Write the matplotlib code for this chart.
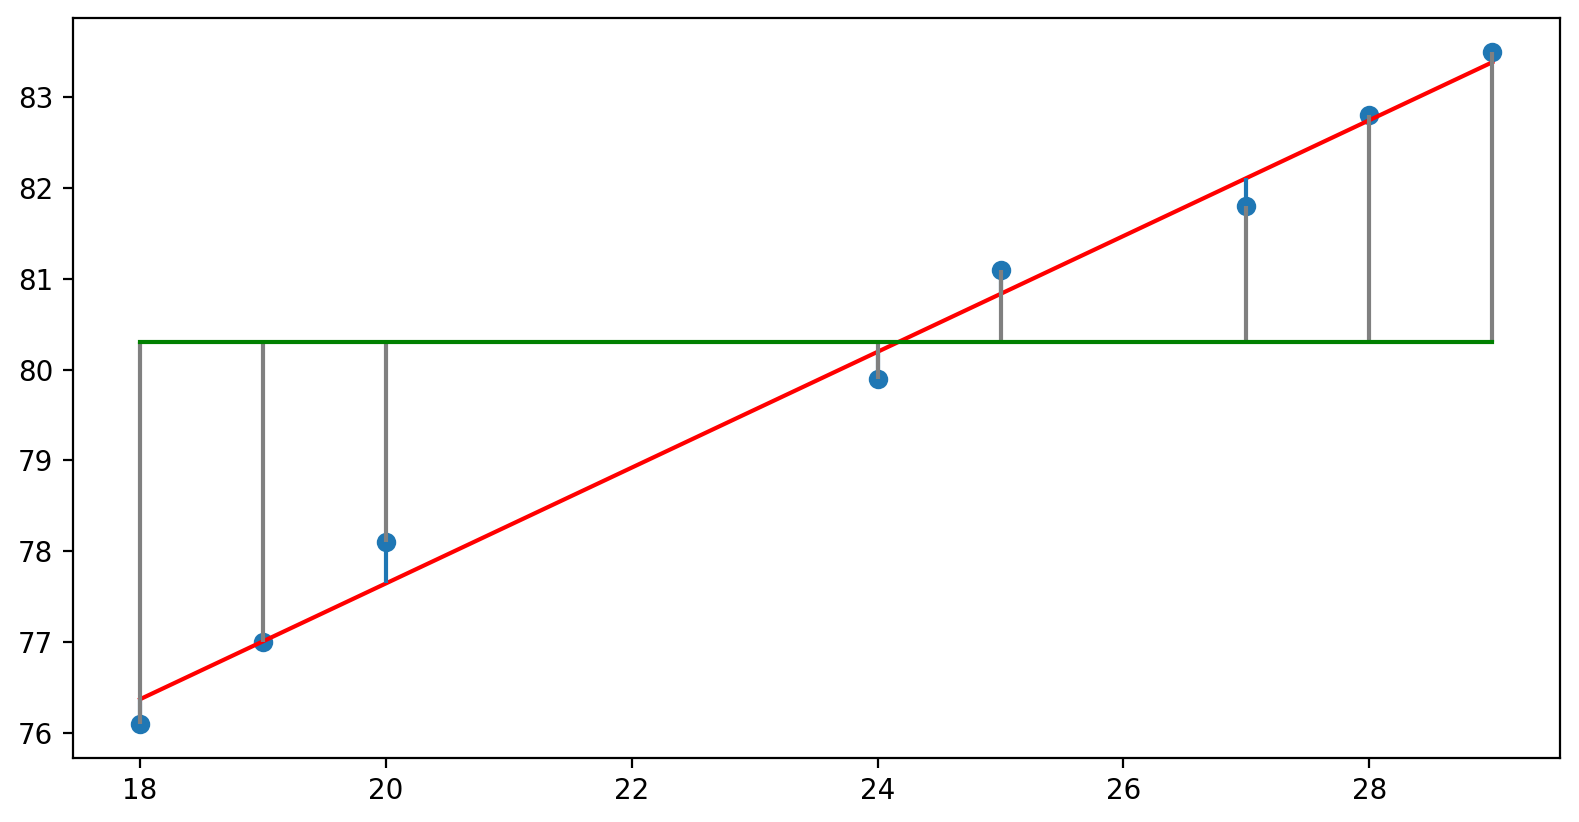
import matplotlib
matplotlib.use('Agg')
import matplotlib.pyplot as plt
import numpy as np

# data
x = np.array([18, 19, 20, 24, 25, 27, 28, 29])
y = np.array([76.1, 77.0, 78.1, 79.9, 81.1, 81.8, 82.8, 83.5])
baseline = 80.3   # green horizontal line

# least squares fit
slope, intercept = np.polyfit(x, y, 1)
y_fit = slope * x + intercept

DPI = 200
fig = plt.figure(figsize=(1579 / DPI, 822 / DPI), dpi=DPI)
ax = fig.add_axes([72 / 1568, 1 - 752 / 816, (1549 - 72) / 1568, (752 - 18) / 816])

ax.scatter(x, y)
ax.plot(x, y_fit, 'r')
ax.vlines(x, y, y_fit, colors='C0', linewidth=1.5)
ax.vlines(x, baseline, y, colors='gray', linewidth=1.5)
ax.plot([x.min(), x.max()], [baseline, baseline], 'g')

fig.savefig('out.png', dpi=DPI)
